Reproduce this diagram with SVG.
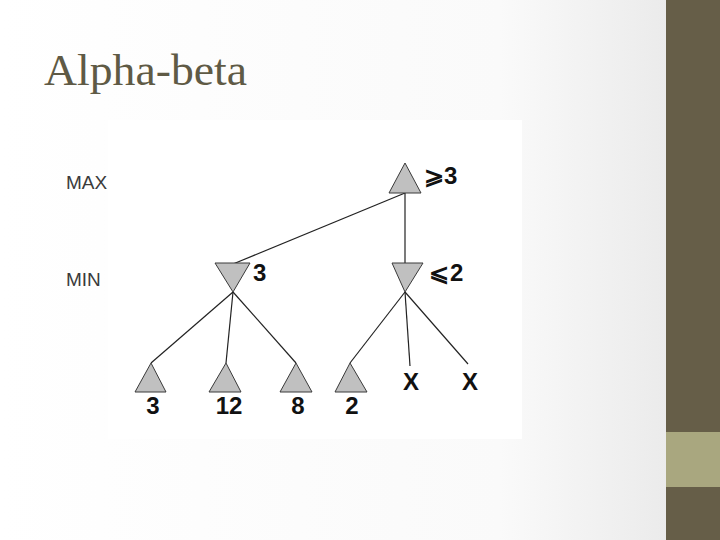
<svg xmlns="http://www.w3.org/2000/svg" width="720" height="540" viewBox="0 0 720 540">
<defs>
<linearGradient id="bg" x1="0" y1="0" x2="1" y2="0">
<stop offset="0" stop-color="#ffffff"/>
<stop offset="0.75" stop-color="#fafafa"/>
<stop offset="1" stop-color="#ebebeb"/>
</linearGradient>
<style>
.tri{fill:#c0c0c0;stroke:#3a3a3a;stroke-width:1}
.edge{stroke:#222;stroke-width:1.2;fill:none}
.val{font-family:"Liberation Sans",Arial,sans-serif;font-weight:bold;font-size:24px;fill:#111}
.lvl{font-family:"Liberation Sans",Arial,sans-serif;font-size:19px;fill:#3a3a3a}
</style>
</defs>
<rect x="0" y="0" width="666" height="540" fill="url(#bg)"/>
<rect x="108" y="120" width="414" height="319" fill="#ffffff"/>
<rect x="666" y="0" width="54" height="540" fill="#665e48"/>
<rect x="666" y="432" width="54" height="55" fill="#a9a77f"/>
<text x="44" y="85" font-family="'Liberation Serif','Times New Roman',serif" font-size="44" fill="#5f5a45" textLength="203" lengthAdjust="spacingAndGlyphs">Alpha-beta</text>
<text class="lvl" x="66" y="189">MAX</text>
<text class="lvl" x="66" y="286">MIN</text>
<g id="edges">
<line class="edge" x1="405" y1="193" x2="233" y2="264"/>
<line class="edge" x1="405" y1="193" x2="405" y2="263"/>
<line class="edge" x1="233" y1="292" x2="151" y2="363"/>
<line class="edge" x1="233" y1="292" x2="226" y2="363"/>
<line class="edge" x1="233" y1="292" x2="296" y2="363"/>
<line class="edge" x1="405" y1="292" x2="350" y2="363"/>
<line class="edge" x1="405" y1="292" x2="410" y2="366"/>
<line class="edge" x1="405" y1="292" x2="468" y2="364"/>
</g>
<g id="max">
<polygon class="tri" points="405,163 421,193 389,193"/>
<text class="val" x="424" y="184" font-family="'DejaVu Sans',sans-serif" font-size="21">⩾</text>
<text class="val" x="444" y="184">3</text>
</g>
<g id="min1">
<polygon class="tri" points="215,263 250,263 233,292"/>
<text class="val" x="253" y="281">3</text>
</g>
<g id="min2">
<polygon class="tri" points="392,263 423,263 405,292"/>
<text class="val" x="429" y="281" font-family="'DejaVu Sans',sans-serif" font-size="21">⩽</text>
<text class="val" x="450" y="281">2</text>
</g>
<g id="leaf1">
<polygon class="tri" points="151,363 166,392 135,392"/>
<text class="val" x="153" y="414" text-anchor="middle">3</text>
</g>
<g id="leaf2">
<polygon class="tri" points="226,363 241,392 209,392"/>
<text class="val" x="229" y="414" text-anchor="middle">12</text>
</g>
<g id="leaf3">
<polygon class="tri" points="296,363 312,392 280,392"/>
<text class="val" x="298" y="414" text-anchor="middle">8</text>
</g>
<g id="leaf4">
<polygon class="tri" points="350,363 367,392 335,392"/>
<text class="val" x="352" y="414" text-anchor="middle">2</text>
</g>
<g id="cut1">
<text class="val" x="411" y="390" text-anchor="middle">X</text>
</g>
<g id="cut2">
<text class="val" x="470" y="390" text-anchor="middle">X</text>
</g>
</svg>
